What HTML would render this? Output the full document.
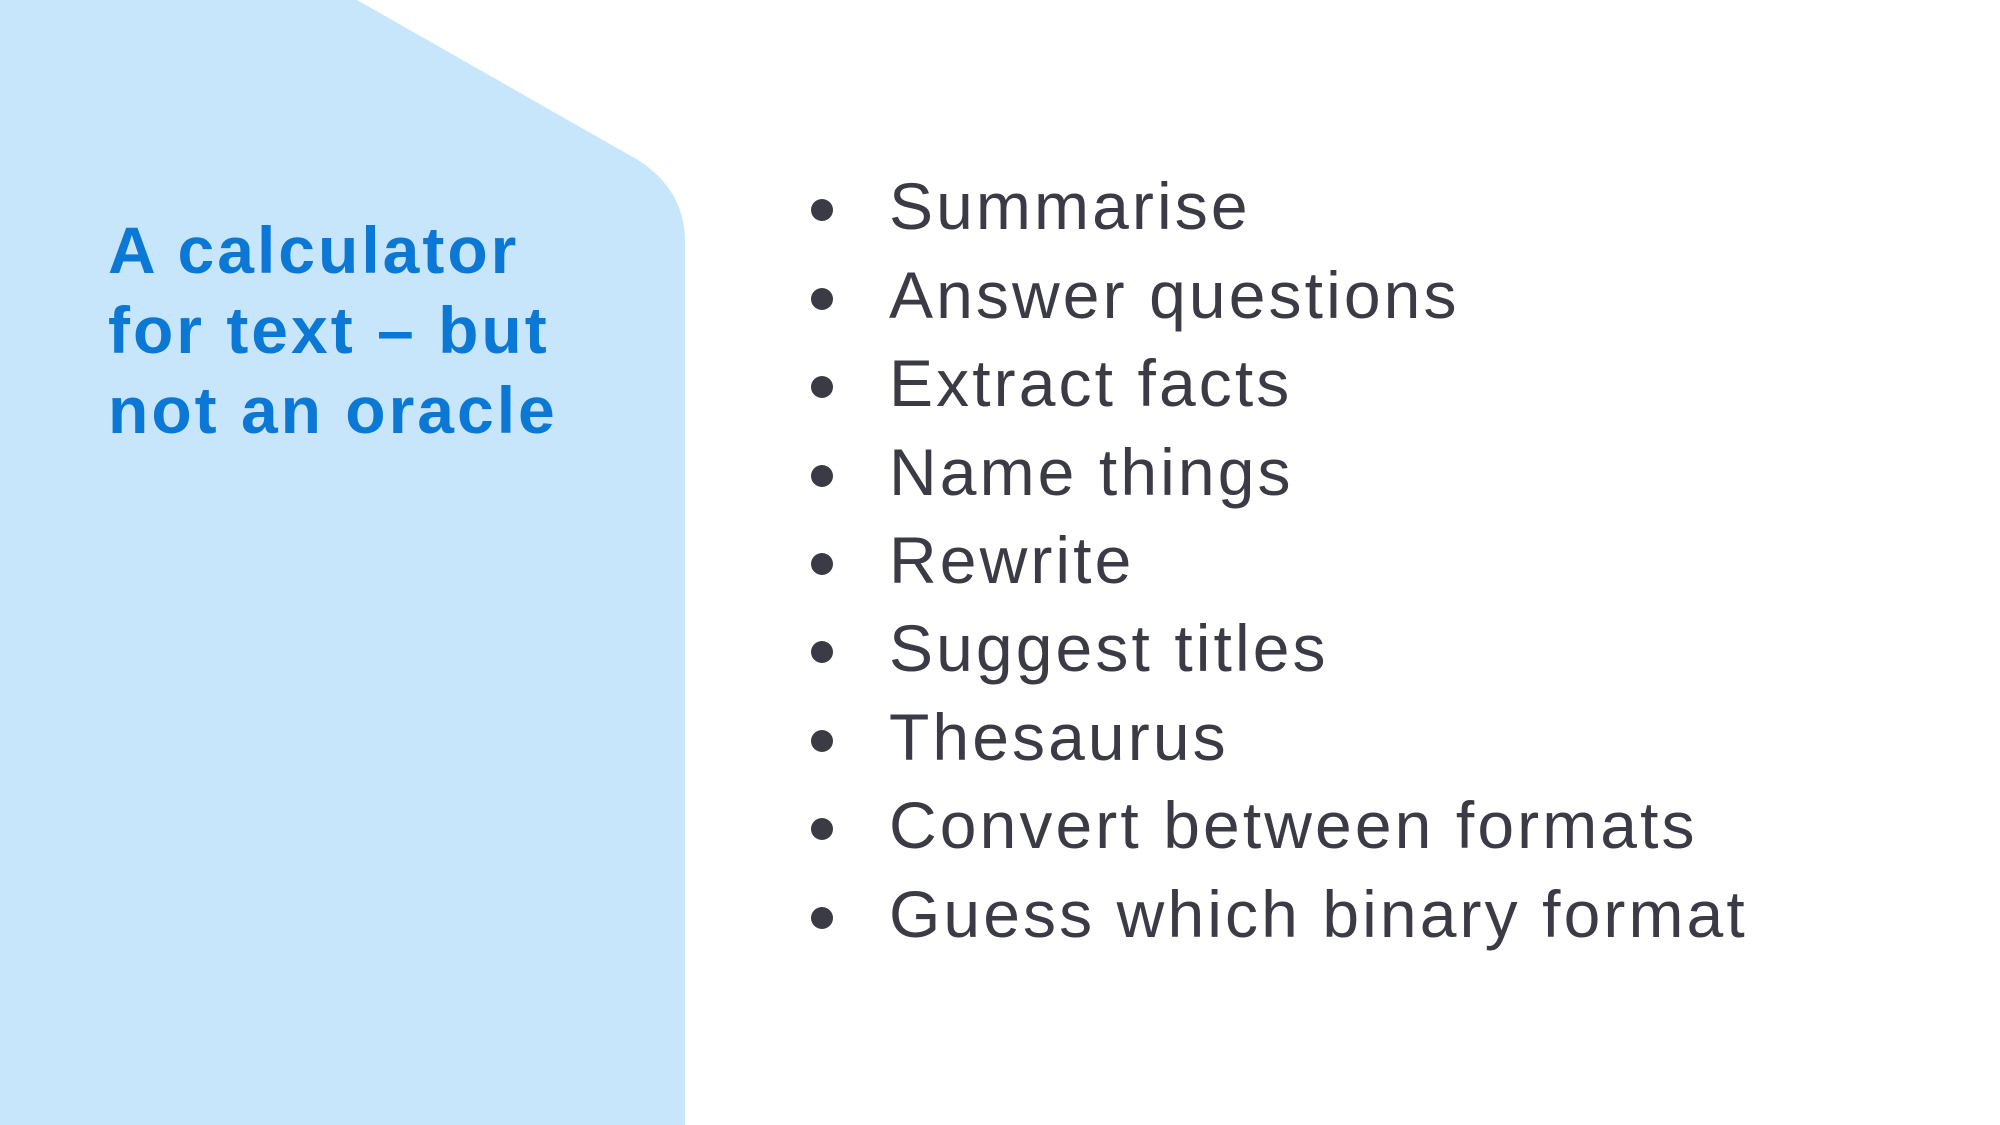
<!DOCTYPE html>
<html><head><meta charset="utf-8"><style>
html,body{margin:0;padding:0;background:#fff;}
body{width:2000px;height:1125px;position:relative;overflow:hidden;font-family:"Liberation Sans",sans-serif;}
svg{position:absolute;left:0;top:0;}
.h{position:absolute;left:108px;top:210px;color:#0b78d6;font-weight:bold;font-size:66px;line-height:80px;letter-spacing:3px;}
.li{position:absolute;left:889px;color:#3b3b45;font-size:66px;line-height:80px;white-space:nowrap;letter-spacing:3.1px;}
.dot{position:absolute;left:811px;width:22px;height:22px;border-radius:50%;background:#3b3b45;}
</style></head><body>
<svg width="2000" height="1125"><path d="M0,0 L357,0 L638,160 Q685,190 685,242 L685,1125 L0,1125 Z" fill="#c8e6fb"/></svg>
<div class="h">A calculator<br>for text – but<br>not an oracle</div>
<div class="dot" style="top:199px"></div><div class="li" style="top:166px">Summarise</div>
<div class="dot" style="top:288px"></div><div class="li" style="top:255px">Answer questions</div>
<div class="dot" style="top:376px"></div><div class="li" style="top:343px">Extract facts</div>
<div class="dot" style="top:465px"></div><div class="li" style="top:432px">Name things</div>
<div class="dot" style="top:553px"></div><div class="li" style="top:520px">Rewrite</div>
<div class="dot" style="top:641px"></div><div class="li" style="top:608px">Suggest titles</div>
<div class="dot" style="top:730px"></div><div class="li" style="top:697px">Thesaurus</div>
<div class="dot" style="top:818px"></div><div class="li" style="top:785px">Convert between formats</div>
<div class="dot" style="top:907px"></div><div class="li" style="top:874px">Guess which binary format</div>
</body></html>
